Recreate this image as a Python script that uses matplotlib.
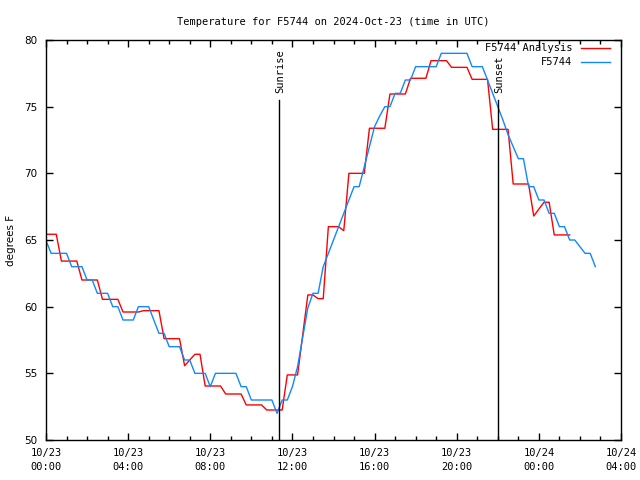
import numpy as np
import matplotlib.pyplot as plt
from matplotlib.ticker import MultipleLocator

# hours since 2024-10-23 00:00 UTC
analysis_t = [0.0, 0.5, 0.75, 1.5, 1.75, 2.5, 2.75, 3.5, 3.75, 4.5, 4.75, 5.5, 5.75,
              6.5, 6.75, 7.25, 7.5, 7.75, 8.5, 8.75, 9.5, 9.75, 10.5, 10.75, 11.5,
              11.75, 12.25, 12.75, 13.0, 13.25, 13.5, 13.75, 14.25, 14.5, 14.75,
              15.5, 15.75, 16.5, 16.75, 17.5, 17.75, 18.5, 18.75, 19.5, 19.75,
              20.5, 20.75, 21.5, 21.75, 22.5, 22.75, 23.5, 23.75, 24.25, 24.5,
              24.75, 25.5]
analysis_f = [65.43, 65.43, 63.42, 63.42, 62.0, 62.0, 60.55, 60.55, 59.6, 59.6, 59.7, 59.7, 57.6,
              57.6, 55.57, 56.43, 56.43, 54.05, 54.05, 53.45, 53.45, 52.63, 52.63, 52.25, 52.25,
              54.88, 54.88, 60.88, 60.88, 60.6, 60.6, 66.0, 66.0, 65.7, 70.0,
              70.0, 73.38, 73.38, 75.95, 75.95, 77.13, 77.13, 78.45, 78.45, 77.95,
              77.95, 77.05, 77.05, 73.3, 73.3, 69.2, 69.2, 66.8, 67.83, 67.83,
              65.38, 65.38]

obs_t = [0.0, 0.25, 1.0, 1.25, 1.75, 2.0, 2.25, 2.5, 3.0, 3.25, 3.5, 3.75, 4.25, 4.5,
         5.0, 5.5, 5.75, 6.0, 6.5, 6.75, 7.0, 7.25, 7.75, 8.0, 8.25, 9.25, 9.5, 9.75,
         10.0, 11.0, 11.25, 11.5, 11.75, 12.0, 12.25, 12.5, 12.75, 13.0, 13.25, 13.5,
         13.75, 14.0, 14.25, 14.5, 14.75, 15.0, 15.25, 15.5, 15.75, 16.0, 16.25, 16.5,
         16.75, 17.0, 17.25, 17.5, 17.75, 18.0, 19.0, 19.25, 20.5, 20.75, 21.25, 21.5,
         21.75, 22.0, 22.25, 22.5, 22.75, 23.0, 23.25, 23.5, 23.75, 24.0, 24.25, 24.5,
         24.75, 25.0, 25.25, 25.5, 25.75, 26.25, 26.5, 26.75]
obs_f = [64.95, 64.0, 64.0, 63.0, 63.0, 62.0, 62.0, 61.0, 61.0, 60.0, 60.0, 59.0, 59.0, 60.0,
         60.0, 58.0, 58.0, 57.0, 57.0, 56.0, 56.0, 55.0, 55.0, 54.0, 55.0, 55.0, 54.0, 54.0,
         53.0, 53.0, 52.0, 53.0, 53.0, 54.0, 55.5, 57.7, 59.9, 61.0, 61.0, 63.0,
         64.0, 65.0, 66.0, 67.0, 68.0, 69.0, 69.0, 70.5, 72.0, 73.5, 74.3, 75.0,
         75.0, 76.0, 76.0, 77.0, 77.0, 78.0, 78.0, 79.0, 79.0, 78.0, 78.0, 77.0,
         76.0, 75.0, 74.0, 72.9, 72.0, 71.1, 71.1, 69.0, 69.0, 68.0, 68.0, 67.0,
         67.0, 66.0, 66.0, 65.0, 65.0, 64.0, 64.0, 63.0]

sunrise = 11.35
sunset = 22.0

tick_hours = [0, 4, 8, 12, 16, 20, 24, 28]
tick_labels = ['10/23\n00:00', '10/23\n04:00', '10/23\n08:00', '10/23\n12:00',
               '10/23\n16:00', '10/23\n20:00', '10/24\n00:00', '10/24\n04:00']

mono = 'DejaVu Sans Mono'
red = '#ff0000'
blue = '#1188ff'

fig = plt.figure(figsize=(6.4, 4.8), dpi=100)
ax = fig.add_axes([46/640, 40/480, 575/640, 400/480])

ax.plot(analysis_t, analysis_f, color=red, lw=1.0)
ax.plot(obs_t, obs_f, color=blue, lw=1.0)

# sunrise / sunset markers
for t, name in [(sunrise, 'Sunrise'), (sunset, 'Sunset')]:
    ax.plot([t, t], [50, 75.5], color='black', lw=1.0)
    ax.text(t + 0.05, 76.0, name, rotation=90, ha='center', va='bottom',
            family=mono, fontsize=7.5)

# legend drawn by hand (gnuplot style: text right-aligned, sample on the right)
for i, (lbl, c) in enumerate([('F5744 Analysis', red), ('F5744', blue)]):
    y = 0.98 - i * 0.035
    ax.text(0.915, y, lbl, transform=ax.transAxes, ha='right', va='center',
            family=mono, fontsize=7.5)
    ax.plot([0.93, 0.98], [y, y], transform=ax.transAxes, color=c, lw=1.0)

ax.set_xlim(0, 28)
ax.set_ylim(50, 80)
ax.set_xticks(tick_hours)
ax.set_xticklabels(tick_labels, family=mono, fontsize=7.5, linespacing=1.45)
ax.xaxis.set_minor_locator(MultipleLocator(1))
ax.set_yticks(np.arange(50, 81, 5))
ax.set_yticklabels([str(v) for v in range(50, 81, 5)], fontsize=7.5)
ax.tick_params(which='both', direction='in', top=True, right=True, width=1.0)
ax.tick_params(which='major', length=5, pad=6)
ax.tick_params(which='minor', length=3)
for s in ax.spines.values():
    s.set_linewidth(1.0)

ax.set_ylabel('degrees F', fontsize=7.5, labelpad=6)
ax.set_title('Temperature for F5744 on 2024-Oct-23 (time in UTC)',
             family=mono, fontsize=7.5, pad=11)

fig.savefig('out.png', dpi=100)
